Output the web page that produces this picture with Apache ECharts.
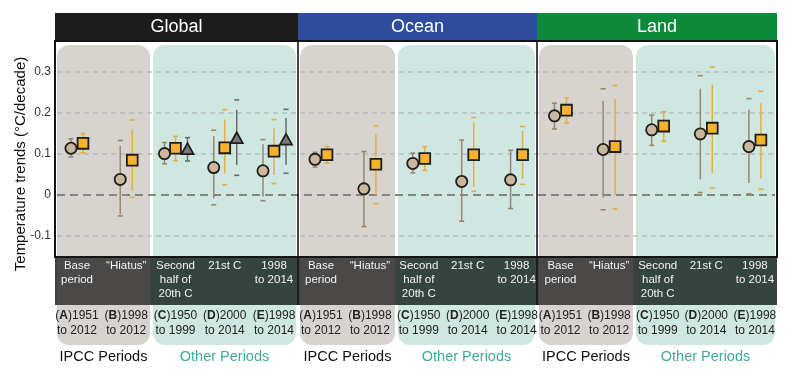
<!DOCTYPE html>
<html><head><meta charset="utf-8">
<script src="https://cdn.jsdelivr.net/npm/echarts@6/dist/echarts.min.js"></script>
<style>html,body{margin:0;padding:0;background:#fff}#c{width:800px;height:376px}</style>
</head><body><div id="c"></div>
<script>
// ---------- data ----------
const regions = ['Global', 'Ocean', 'Land'];
const periodLetters = ['A', 'B', 'C', 'D', 'E'];
const periodStart = ['1951', '1998', '1950', '2000', '1998'];
const periodEnd = ['2012', '2012', '1999', '2014', '2014'];
const periodNames = ['Base\nperiod', '\u201cHiatus\u201d', 'Second\nhalf of\n20th C', '21st C', '1998\nto 2014'];
const groupNames = ['IPCC Periods', 'Other Periods'];
const yTicks = [-0.1, 0, 0.1, 0.2, 0.3];

// each item: [trend, low, high, outerLow, outerHigh]
const globalCircle = [[0.114, 0.093, 0.137, null, null], [0.038, -0.047, 0.120, -0.051, 0.133], [0.101, 0.076, 0.128, null, null], [0.067, -0.008, 0.143, -0.024, 0.158], [0.059, -0.004, 0.124, -0.014, 0.135]];
const globalSquare = [[0.126, 0.103, 0.150, null, null], [0.085, 0.011, 0.159, -0.006, 0.183], [0.114, 0.084, 0.143, null, null], [0.115, 0.053, 0.184, 0.025, 0.208], [0.107, 0.049, 0.163, 0.028, 0.184]];
const globalTriangle = [null, null, [0.109, 0.083, 0.140, null, null], [0.136, 0.073, 0.208, 0.048, 0.232], [0.132, 0.074, 0.188, 0.053, 0.209]];
const oceanCircle = [[0.087, 0.068, 0.104, null, null], [0.015, -0.077, 0.106, null, null], [0.077, 0.054, 0.102, null, null], [0.033, -0.064, 0.134, null, null], [0.037, -0.033, 0.109, null, null]];
const oceanSquare = [[0.098, 0.078, 0.118, null, null], [0.075, 0.000, 0.148, -0.021, 0.169], [0.089, 0.060, 0.118, null, null], [0.098, 0.020, 0.177, 0.009, 0.189], [0.098, 0.039, 0.156, 0.026, 0.167]];
const landCircle = [[0.193, 0.161, 0.224, null, null], [0.111, -0.006, 0.229, -0.036, 0.259], [0.159, 0.121, 0.195, null, null], [0.149, 0.038, 0.259, 0.006, 0.291], [0.118, 0.029, 0.208, 0.003, 0.235]];
const landSquare = [[0.207, 0.176, 0.237, null, null], [0.118, 0.000, 0.234, -0.034, 0.267], [0.168, 0.131, 0.203, null, null], [0.163, 0.053, 0.269, 0.017, 0.312], [0.134, 0.041, 0.224, 0.014, 0.253]];

const panelSeries = [
  {circle: globalCircle, square: globalSquare, triangle: globalTriangle},
  {circle: oceanCircle, square: oceanSquare, triangle: null},
  {circle: landCircle, square: landSquare, triangle: null}
];

// ---------- layout / style ----------
const FONT = '"Liberation Sans", Arial, Helvetica, sans-serif';
const FR_L = 55, FR_R = 777, HEAD_T = 13, FR_T = 41, FR_B = 257, BAND_B = 305, BOX_T = 45, BOX_B = 345;
const panelEdges = [[55, 298], [298, 537], [537, 777]];
const headColors = ['#1c1c1c', '#2f4c9c', '#0d8a3b'];
const boxes = [
  {gray: [57, 150], teal: [153, 296]},
  {gray: [300, 395], teal: [398, 535]},
  {gray: [539, 633], teal: [636, 775]}
];
const panelAxis = [{c0: 77, step: 49.25}, {c0: 321, step: 48.9}, {c0: 560.5, step: 48.6}];
const GRAY = '#d7d4d0', TEAL = '#cfe7e1';
const markerFill = {circle: '#ccb79e', square: '#f6b22a', triangle: '#7a7a7a'};
const barColor = {circle: '#9c876c', square: '#e6ae3c', triangle: '#6d6d6d'};
const GRID_TOP = 31, GRID_H = 246;

const grids = [{left: FR_L, width: FR_R - FR_L, top: GRID_TOP, height: GRID_H}];
const xAxes = [{type: 'value', gridIndex: 0, min: 0, max: 1, show: false}];
const yAxes = [{
  type: 'value', gridIndex: 0, min: -0.2, max: 0.4, interval: 0.1,
  axisLine: {show: false}, axisTick: {show: false}, splitLine: {show: false},
  axisLabel: {
    margin: 4, fontSize: 12, color: '#333', fontFamily: FONT,
    customValues: yTicks,
    formatter: v => {
      const t = yTicks.find(u => Math.abs(u - v) < 1e-6);
      return t === undefined ? '' : String(t);
    }
  }
}];
panelAxis.forEach((p, k) => {
  grids.push({left: p.c0 - 0.5 * p.step, width: 5 * p.step, top: GRID_TOP, height: GRID_H});
  xAxes.push({type: 'value', gridIndex: k + 1, min: -0.5, max: 4.5, show: false});
  yAxes.push({type: 'value', gridIndex: k + 1, min: -0.2, max: 0.4, show: false});
});

const series = [];
// gridlines
series.push({
  type: 'custom', xAxisIndex: 0, yAxisIndex: 0, z: 1, silent: true,
  data: yTicks.map(v => [0, v]),
  encode: {x: 0, y: 1},
  renderItem: (params, api) => {
    const v = api.value(1);
    const a = api.coord([0, v]), b = api.coord([1, v]);
    const zero = Math.abs(v) < 1e-9;
    return {
      type: 'line', shape: {x1: a[0] + 2, y1: a[1], x2: b[0] - 2, y2: b[1]},
      style: zero ? {stroke: '#858585', lineWidth: 2, lineDash: [8, 5]}
                  : {stroke: '#ababab', lineWidth: 1, lineDash: [5, 4]}
    };
  }
});

function isNum(x) { return typeof x === 'number' && isFinite(x); }

function makeRender(kind, k) {
  const tri = panelSeries[k].triangle;
  return (params, api) => {
    const i = api.value(0), v = api.value(1), lo = api.value(2), hi = api.value(3), olo = api.value(4), ohi = api.value(5);
    const hasTri = tri && tri[i];
    const off = kind === 'circle' ? (hasTri ? -11 : -6) : kind === 'square' ? (hasTri ? 0 : 6) : 12;
    const p = api.coord([i, v]);
    const x = p[0] + off, y = p[1];
    const yl = api.coord([i, lo])[1], yh = api.coord([i, hi])[1];
    const col = barColor[kind];
    const ch = [];
    ch.push({type: 'line', shape: {x1: x, y1: yl, x2: x, y2: yh}, style: {stroke: col, lineWidth: 1.5}});
    const tick = yy => ({type: 'line', shape: {x1: x - 2.5, y1: yy, x2: x + 2.5, y2: yy}, style: {stroke: col, lineWidth: 1.6}});
    if (isNum(olo) && isNum(ohi)) {
      ch.push(tick(api.coord([i, olo])[1]));
      ch.push(tick(api.coord([i, ohi])[1]));
    } else {
      ch.push(tick(yl));
      ch.push(tick(yh));
    }
    const ms = {fill: markerFill[kind], stroke: '#1e1e1e', lineWidth: 1.8};
    if (kind === 'circle') ch.push({type: 'circle', shape: {cx: x, cy: y, r: 5.6}, style: ms});
    else if (kind === 'square') ch.push({type: 'rect', shape: {x: x - 5.4, y: y - 5.4, width: 10.8, height: 10.8}, style: ms});
    else ch.push({type: 'polygon', shape: {points: [[x, y - 7], [x - 6, y + 3.8], [x + 6, y + 3.8]]}, style: ms});
    return {type: 'group', children: ch};
  };
}

panelSeries.forEach((ps, k) => {
  ['circle', 'square', 'triangle'].forEach(kind => {
    const arr = ps[kind];
    if (!arr) return;
    const data = [];
    arr.forEach((d, i) => { if (d) data.push([i].concat(d.map(x => x === null ? NaN : x))); });
    series.push({
      type: 'custom', xAxisIndex: k + 1, yAxisIndex: k + 1, z: 3, clip: false, silent: true,
      dimensions: ['i', 'v', 'lo', 'hi', 'olo', 'ohi'],
      encode: {x: 0, y: 1},
      data: data,
      renderItem: makeRender(kind, k)
    });
  });
});

// ---------- decorations ----------
const graphic = [];
boxes.forEach(b => {
  graphic.push({type: 'rect', z: 0, silent: true, shape: {x: b.gray[0], y: BOX_T, width: b.gray[1] - b.gray[0], height: BOX_B - BOX_T, r: 12}, style: {fill: GRAY}});
  graphic.push({type: 'rect', z: 0, silent: true, shape: {x: b.teal[0], y: BOX_T, width: b.teal[1] - b.teal[0], height: BOX_B - BOX_T, r: 12}, style: {fill: TEAL}});
});
// dark band
graphic.push({type: 'rect', z: 5, silent: true, shape: {x: FR_L, y: FR_B, width: FR_R - FR_L, height: BAND_B - FR_B}, style: {fill: '#3d4240'}});
boxes.forEach(b => {
  graphic.push({type: 'rect', z: 5, silent: true, shape: {x: b.gray[0], y: FR_B, width: b.gray[1] - b.gray[0], height: BAND_B - FR_B}, style: {fill: '#4b4948'}});
  graphic.push({type: 'rect', z: 5, silent: true, shape: {x: b.teal[0], y: FR_B, width: b.teal[1] - b.teal[0], height: BAND_B - FR_B}, style: {fill: '#34443f'}});
});
// header
regions.forEach((r, k) => {
  const e = panelEdges[k];
  graphic.push({type: 'rect', z: 6, silent: true, shape: {x: e[0], y: HEAD_T, width: e[1] - e[0], height: FR_T - HEAD_T}, style: {fill: headColors[k]}});
  graphic.push({type: 'text', z: 8, silent: true, style: {text: r, x: (e[0] + e[1]) / 2, y: (HEAD_T + FR_T) / 2 + 0.5, fill: '#fff', font: '18px ' + FONT, align: 'center', verticalAlign: 'middle', textAlign: 'center', textVerticalAlign: 'middle'}});
});
// frame
graphic.push({type: 'rect', z: 7, silent: true, shape: {x: FR_L, y: FR_T, width: FR_R - FR_L, height: FR_B - FR_T}, style: {fill: null, stroke: '#151515', lineWidth: 2}});
[298, 537].forEach(xv => {
  graphic.push({type: 'line', z: 7, silent: true, shape: {x1: xv, y1: FR_T, x2: xv, y2: BAND_B}, style: {stroke: '#151515', lineWidth: 1.6}});
});
// labels
panelAxis.forEach((p, k) => {
  for (let i = 0; i < 5; i++) {
    const cx = p.c0 + p.step * i;
    graphic.push({type: 'text', z: 9, silent: true, style: {text: periodNames[i], x: cx, y: FR_B + 2, fill: '#f2f2f2', font: '11.5px ' + FONT, lineHeight: 14, align: 'center', verticalAlign: 'top', textAlign: 'center', textVerticalAlign: 'top'}});
    graphic.push({type: 'text', z: 9, silent: true, style: {
      text: '{n|(}{b|' + periodLetters[i] + '}{n|)' + periodStart[i] + '}\n{n|to ' + periodEnd[i] + '}',
      x: cx, y: BAND_B + 3.5, align: 'center', verticalAlign: 'top', textAlign: 'center', textVerticalAlign: 'top',
      rich: {
        n: {fontSize: 12, fontFamily: FONT, fill: '#222', color: '#222', lineHeight: 15},
        b: {fontSize: 12, fontFamily: FONT, fontWeight: 'bold', fill: '#222', color: '#222', lineHeight: 15}
      }
    }});
  }
  const b = boxes[k];
  graphic.push({type: 'text', z: 9, silent: true, style: {text: groupNames[0], x: (b.gray[0] + b.gray[1]) / 2, y: 357, fill: '#111', font: '14.5px ' + FONT, align: 'center', verticalAlign: 'middle', textAlign: 'center', textVerticalAlign: 'middle'}});
  graphic.push({type: 'text', z: 9, silent: true, style: {text: groupNames[1], x: (b.teal[0] + b.teal[1]) / 2, y: 357, fill: '#3fa99e', font: '14.5px ' + FONT, align: 'center', verticalAlign: 'middle', textAlign: 'center', textVerticalAlign: 'middle'}});
});
// y axis title
graphic.push({type: 'text', z: 9, silent: true, x: 21, y: 164, rotation: Math.PI / 2,
  style: {text: 'Temperature trends (\u00b0C/decade)', x: 0, y: 0, fill: '#111', font: '15px ' + FONT, align: 'center', verticalAlign: 'middle', textAlign: 'center', textVerticalAlign: 'middle'}});

const chart = echarts.init(document.getElementById('c'), null, {renderer: 'canvas'});
chart.setOption({
  animation: false,
  backgroundColor: '#fff',
  grid: grids, xAxis: xAxes, yAxis: yAxes,
  series: series,
  graphic: graphic
});
</script>
</body></html>
